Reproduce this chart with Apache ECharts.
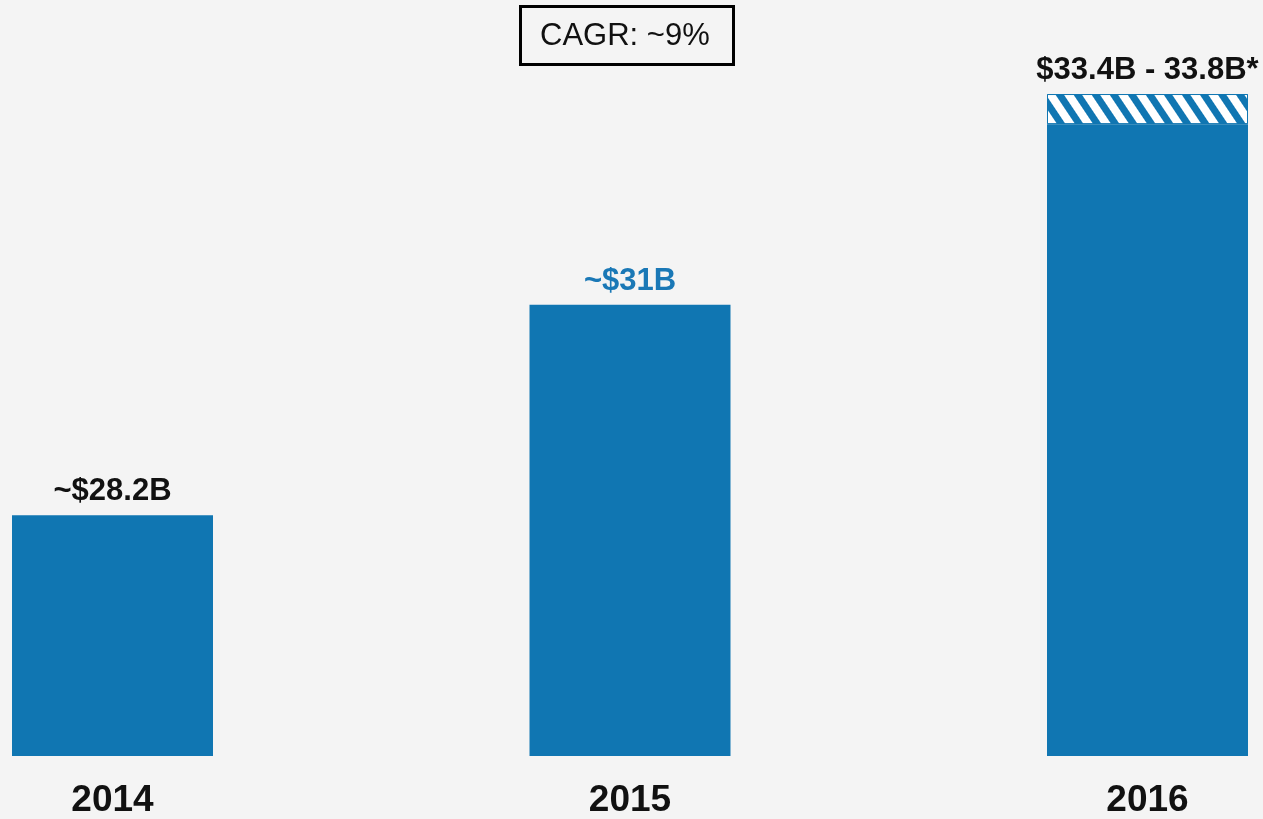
<!DOCTYPE html>
<html>
<head>
<meta charset="utf-8">
<script src="https://cdn.jsdelivr.net/npm/echarts@6/dist/echarts.min.js"></script>
<style>
  html, body { margin: 0; padding: 0; background: #f4f4f4; }
  #chart { width: 1263px; height: 819px; }
</style>
</head>
<body>
<div id="chart"></div>
<script>
// data
var years = ['2014', '2015', '2016'];
var solidValues = [28.2, 31, 33.4];
var rangeValues = ['-', '-', 0.4];        // hatched part of 2016 estimate
var barLabels = ['~$28.2B', '~$31B', '$33.4B - 33.8B*'];
var cagrText = 'CAGR: ~9%';

var BLUE = '#1076b2';
var FONT = '"Liberation Sans", Arial, sans-serif';

var chart = echarts.init(document.getElementById('chart'));

// label for the solid bars (2016 label goes on top of the hatched piece)
var solidData = solidValues.map(function (v, i) {
  var item = { value: v };
  if (i === 2) {
    item.label = { show: false };
  } else if (i === 1) {
    item.label = { color: '#1a78b6' };
  }
  return item;
});

var topLabel = {
  show: true,
  position: 'top',
  distance: 8,
  fontSize: 31,
  fontWeight: 'bold',
  fontFamily: FONT,
  color: '#111',
  formatter: function (p) { return barLabels[p.dataIndex]; }
};

chart.setOption({
  backgroundColor: '#f4f4f4',
  animation: false,
  grid: { left: 112.5, right: 115.5, top: 79, bottom: 61 },
  xAxis: {
    type: 'category',
    data: years,
    boundaryGap: false,
    axisLine: { show: false },
    axisTick: { show: false },
    axisLabel: {
      margin: 26,
      fontSize: 37,
      fontWeight: 'bold',
      fontFamily: FONT,
      color: '#111'
    }
  },
  yAxis: {
    type: 'value',
    min: 25,
    max: 34,
    startValue: 25,
    show: false,
    splitLine: { show: false }
  },
  series: [{
    type: 'bar',
    stack: 'rev',
    clip: false,
    barWidth: 201,
    data: solidData,
    itemStyle: { color: BLUE },
    label: topLabel
  }, {
    type: 'bar',
    stack: 'rev',
    clip: false,
    barWidth: 201,
    data: rangeValues,
    itemStyle: {
      color: BLUE,
      borderColor: BLUE,
      borderWidth: 1,
      decal: {
        symbol: 'rect',
        symbolSize: 1,
        color: '#ffffff',
        dashArrayX: [1, 0],
        dashArrayY: [8, 7],
        rotation: Math.PI / 3.2
      }
    },
    label: topLabel
  }],
  graphic: [{
    type: 'rect',
    left: 519,
    top: 5,
    shape: { width: 213, height: 58 },
    style: { fill: '#f4f4f4', stroke: '#000', lineWidth: 3 }
  }, {
    type: 'text',
    left: 540,
    top: 21,
    style: {
      text: cagrText,
      fontSize: 31,
      fontFamily: FONT,
      fill: '#111'
    }
  }]
});
</script>
</body>
</html>
